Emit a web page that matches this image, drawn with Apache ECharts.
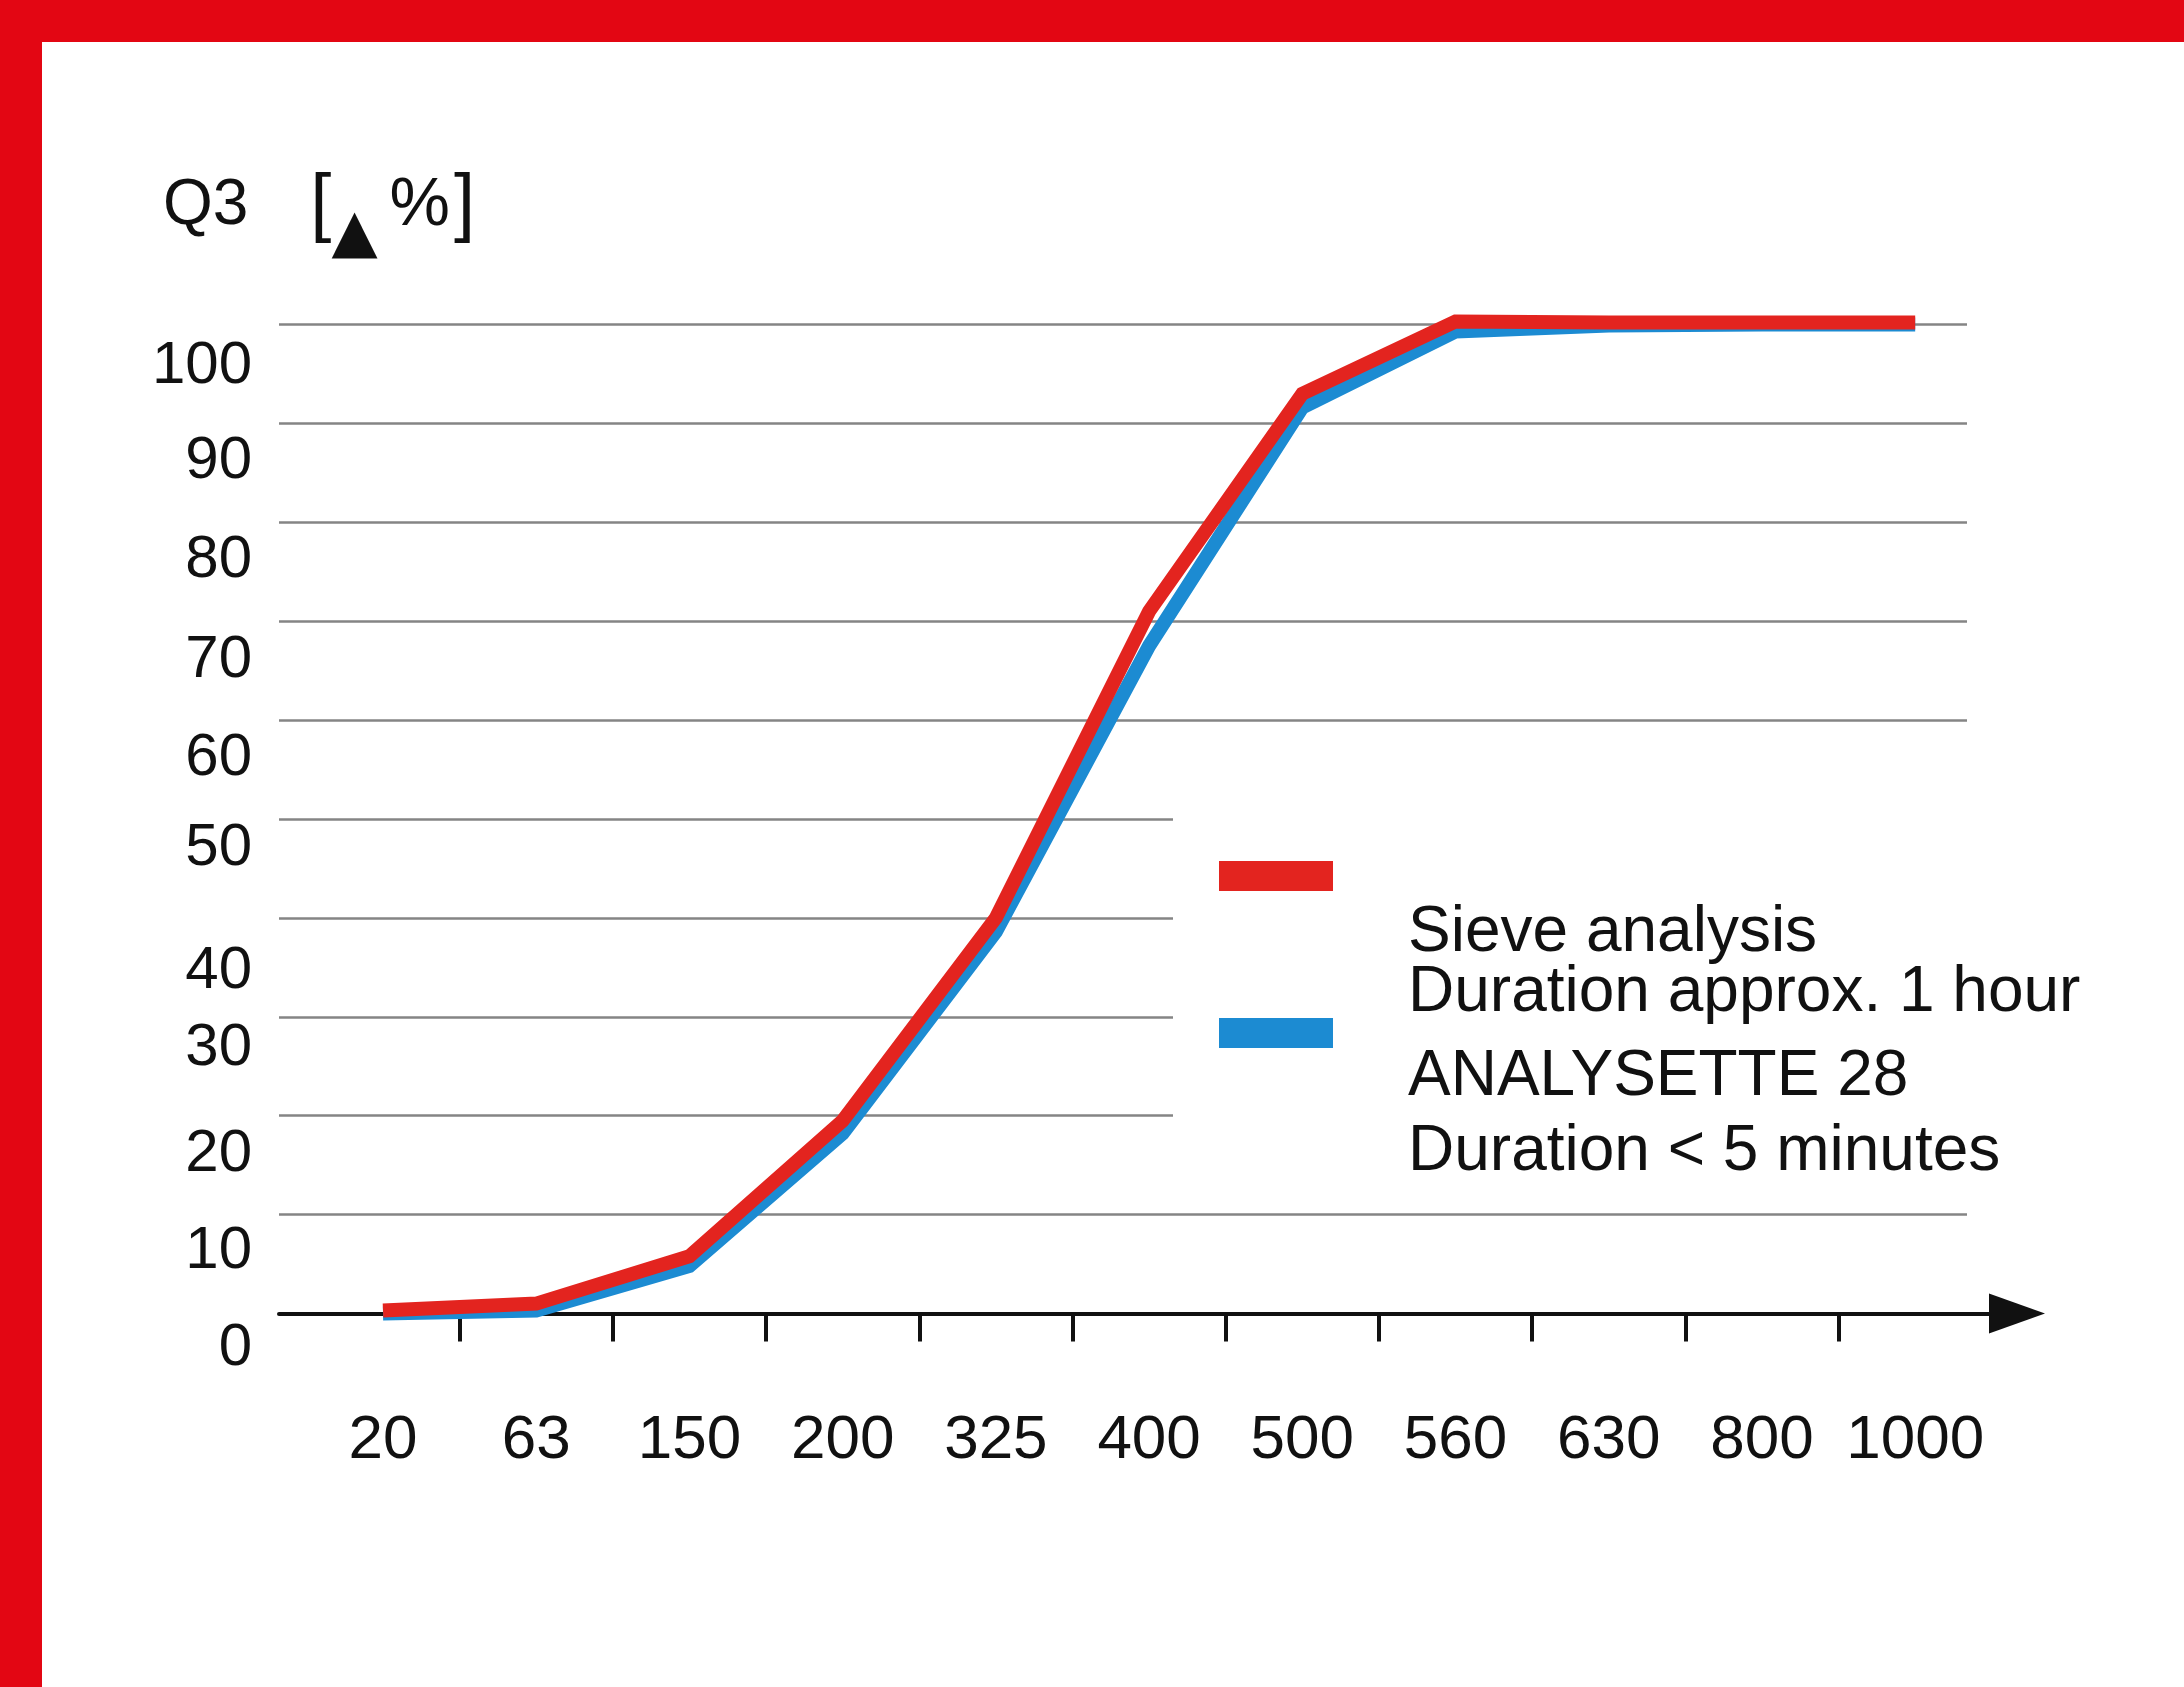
<!DOCTYPE html>
<html>
<head>
<meta charset="utf-8">
<script src="https://cdn.jsdelivr.net/npm/echarts@6/dist/echarts.min.js"></script>
<style>
  html, body { margin: 0; padding: 0; background: #fff; }
  #frame { position: absolute; left: 0; top: 0; width: 2184px; height: 1687px; box-sizing: border-box;
           border-top: 42px solid #e30613; border-left: 42px solid #e30613; background: #fff; }
  #chart { position: absolute; left: 0; top: 0; width: 2184px; height: 1687px; }
</style>
</head>
<body>
<div id="frame"></div>
<div id="chart"></div>
<script>
// ---------------- data ----------------
const categories = ['20', '63', '150', '200', '325', '400', '500', '560', '630', '800', '1000'];
const sieveQ3 = [0.3, 1.0, 5.8, 19.5, 40.0, 71.0, 93.0, 100.3, 100.2, 100.2, 100.2];
const analysetteQ3 = [0.0, 0.3, 4.8, 18.2, 38.6, 67.5, 91.6, 99.3, 99.9, 100.0, 100.0];
const seriesNames = ['Sieve analysis', 'ANALYSETTE 28'];
const seriesNotes = ['Duration approx. 1 hour', 'Duration < 5 minutes'];
const yTicks = [0, 10, 20, 30, 40, 50, 60, 70, 80, 90, 100];

// ---------------- styling ----------------
const RED = '#e3241f';
const BLUE = '#1c8bd2';
const INK = '#111111';
const GRID = '#858585';
const NONE = 'rgba(0,0,0,0)';
const SANS = "'Liberation Sans', Arial, sans-serif";
const NARROW = "'Liberation Sans Narrow', 'Arial Narrow', 'Liberation Sans', Arial, sans-serif";
const TOP = 324.5, HEIGHT = 989, LEFT = 279;
// vertical drop of each y label below its grid line (px)
const yLabelDrop = {0: 35, 10: 37, 20: 39, 30: 32, 40: 54, 50: 29, 60: 38, 70: 39, 80: 38, 90: 38, 100: 42};
const isShortLine = v => v >= 20 && v <= 50;

const yRich = {};
yTicks.forEach(v => {
  yRich['l' + v] = { fontSize: 60, fontFamily: SANS, color: INK, padding: [2 * yLabelDrop[v], 0, 0, 0] };
});

// legend text layout: first line pushed down by a top padding, second line with its own line height
const LEG_FONT = 64;
function legendRich(gapTop, secondLineHeight) {
  return {
    a: { fontSize: LEG_FONT, fontFamily: SANS, color: INK, padding: [gapTop, 0, 0, 0] },
    b: { fontSize: LEG_FONT, fontFamily: SANS, color: INK, lineHeight: secondLineHeight }
  };
}

const chart = echarts.init(document.getElementById('chart'), null, { renderer: 'canvas' });

const hiddenY = gi => ({ gridIndex: gi, type: 'value', min: 0, max: 100, show: false });

chart.setOption({
  animation: false,
  backgroundColor: 'transparent',
  grid: [
    { left: LEFT, top: TOP, width: 1688, height: HEIGHT },      // long grid lines + y labels
    { left: LEFT, top: TOP, width: 894, height: HEIGHT },       // short grid lines (legend area)
    { left: LEFT, top: TOP, width: 1738, height: HEIGHT },      // x axis line with arrow
    { left: 306.4, top: TOP, width: 1685.4, height: HEIGHT },   // data + category labels
    { left: 459.6, top: TOP, width: 1379, height: HEIGHT }      // ticks between categories
  ],
  xAxis: [
    { gridIndex: 0, type: 'category', data: categories, show: false },
    { gridIndex: 1, type: 'category', data: categories, show: false },
    { gridIndex: 2, type: 'value', min: 0, max: 1,
      axisLine: { show: true, onZero: false, symbol: ['none', 'triangle'], symbolSize: [40, 56],
                  lineStyle: { color: INK, width: 4 } },
      axisTick: { show: false }, axisLabel: { show: false }, splitLine: { show: false } },
    { gridIndex: 3, type: 'category', data: categories, boundaryGap: true,
      axisLine: { show: false, onZero: false }, axisTick: { show: false }, splitLine: { show: false },
      axisLabel: { interval: 0, margin: 96, fontSize: 62, fontFamily: NARROW, color: INK } },
    { gridIndex: 4, type: 'value', min: 1, max: 10, interval: 1,
      axisLine: { show: false, onZero: false },
      axisTick: { show: true, length: 28, lineStyle: { color: INK, width: 4 } },
      axisLabel: { show: false }, splitLine: { show: false } }
  ],
  yAxis: [
    { gridIndex: 0, type: 'value', min: 0, max: 100, interval: 10,
      axisLine: { show: false }, axisTick: { show: false },
      axisLabel: { margin: 27, formatter: v => '{l' + v + '|' + v + '}', rich: yRich },
      splitLine: { show: true, showMinLine: true, showMaxLine: true,
                   lineStyle: { width: 2.5, color: yTicks.map(v => isShortLine(v) ? NONE : GRID) } },
      name: '{q|Q3}{b|[}{t|▲}{p|%}{c|]}',
      nameLocation: 'end', nameGap: 118,
      nameTextStyle: {
        align: 'center', verticalAlign: 'middle', padding: [0, 0, 0, 80],
        rich: {
          q: { fontSize: 64, fontFamily: SANS, color: INK, padding: [0, 62, 0, 0] },
          b: { fontSize: 76, fontFamily: SANS, color: INK },
          t: { fontSize: 60, fontFamily: "'DejaVu Sans', sans-serif", color: INK, padding: [58, 0, 0, 0] },
          p: { fontSize: 68, fontFamily: SANS, color: INK, padding: [0, 0, 0, 12] },
          c: { fontSize: 76, fontFamily: SANS, color: INK, padding: [0, 0, 0, 4] }
        }
      } },
    { gridIndex: 1, type: 'value', min: 0, max: 100, interval: 10,
      axisLine: { show: false }, axisTick: { show: false }, axisLabel: { show: false },
      splitLine: { show: true, showMinLine: true, showMaxLine: true,
                   lineStyle: { width: 2.5, color: yTicks.map(v => isShortLine(v) ? GRID : NONE) } } },
    hiddenY(2), hiddenY(3), hiddenY(4)
  ],
  legend: [
    { data: [seriesNames[0]], orient: 'vertical', left: 1219, top: 861, padding: 0,
      icon: 'rect', itemWidth: 114, itemHeight: 30, selectedMode: false,
      itemStyle: { borderWidth: 0 },
      formatter: name => '{a|' + name + '}\n{b|' + seriesNotes[0] + '}',
      textStyle: { fontSize: LEG_FONT, fontFamily: SANS, color: INK, padding: [0, 0, 0, 70],
                   rich: legendRich(170, 56) } },
    { data: [seriesNames[1]], orient: 'vertical', left: 1219, top: 1018, padding: 0,
      icon: 'rect', itemWidth: 114, itemHeight: 30, selectedMode: false,
      itemStyle: { borderWidth: 0 },
      formatter: name => '{a|' + name + '}\n{b|' + seriesNotes[1] + '}',
      textStyle: { fontSize: LEG_FONT, fontFamily: SANS, color: INK, padding: [0, 0, 0, 70],
                   rich: legendRich(174, 86) } }
  ],
  series: [
    { name: seriesNames[1], type: 'line', xAxisIndex: 3, yAxisIndex: 3, data: analysetteQ3,
      color: BLUE, itemStyle: { color: BLUE }, lineStyle: { color: BLUE, width: 14, join: 'miter' },
      symbol: 'none', showSymbol: false, clip: false, z: 3 },
    { name: seriesNames[0], type: 'line', xAxisIndex: 3, yAxisIndex: 3, data: sieveQ3,
      color: RED, itemStyle: { color: RED }, lineStyle: { color: RED, width: 14, join: 'miter' },
      symbol: 'none', showSymbol: false, clip: false, z: 4 }
  ]
});
</script>
</body>
</html>
